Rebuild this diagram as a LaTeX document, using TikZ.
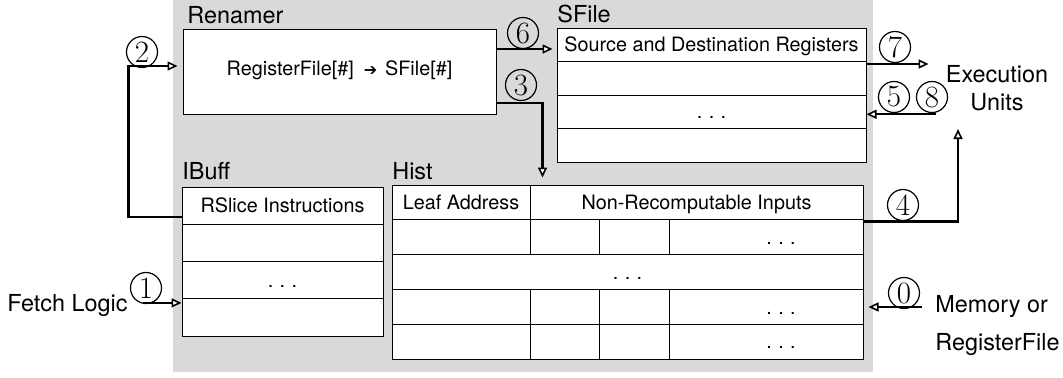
\documentclass[tikz,border=0pt]{standalone}
\usepackage{fontspec}
\setsansfont{TeX Gyre Heros}
\newfontfamily\dejavu{DejaVu Sans}
\usetikzlibrary{arrows.meta}
\definecolor{panelgray}{RGB}{217,217,217}
\newcommand\celldots{.\kern3.2pt.\kern3.2pt.}

\tikzset{
  cellbox/.style={draw, fill=white, line width=0.5pt, inner sep=0pt,
    text height=7.2pt, text depth=0pt, font=\sffamily\fontsize{9.9}{12}\selectfont},
  celltext/.style={inner sep=0pt, text height=7.2pt, text depth=0pt,
    font=\sffamily\fontsize{9.9}{12}\selectfont},
  boxlabel/.style={anchor=base west, inner sep=0pt, font=\sffamily\fontsize{11.7}{14}\selectfont},
  circnum/.style={circle, draw, line width=0.6pt, minimum size=15.5pt, inner sep=0pt,
    font=\rmfamily\fontsize{15.5}{15.5}\selectfont},
  flowarrow/.style={line width=1.1pt,
    -{Triangle[fill=white, length=5pt, width=4.5pt, line width=0.8pt]}},
}

\begin{document}
\begin{tikzpicture}[x=0.5pt, y=-0.5pt]
    \useasboundingbox (0,0) rectangle (1063,377);

    % Grey panel
    \fill[panelgray] (173,0) rectangle (873,372);

    % Renamer
    \node[cellbox, minimum width=156.5pt, minimum height=42.5pt, text depth=3.7pt] (renamer) at (339.5,71.5)
        {RegisterFile[\#]\hspace{5pt}{\dejavu\fontsize{8}{8}\selectfont ➔}\hspace{4pt}SFile[\#]};
    \node[boxlabel] (renamerlabel) at (187,23) {Renamer};

    % SFile rows
    \foreach \i/\txt in {1/Source and Destination Registers, 2/, 3/\celldots, 4/}
        \node[cellbox, minimum width=154.5pt, minimum height=16.75pt] (sf\i) at (711.5,{28+33.5*\i-16.75}) {\txt};
    \node[boxlabel] (sfilelabel) at (557,22) {SFile};

    % IBuff rows
    \foreach \i/\txt in {1/RSlice Instructions, 2/, 3/\celldots, 4/}
        \node[cellbox, minimum width=100.5pt, minimum height=18.625pt] (ib\i) at (282.5,{187+37.25*\i-18.625}) {\txt};
    \node[boxlabel] (ibufflabel) at (182,179) {IBuff};

    % Hist table
    \node[cellbox, minimum width=235.5pt, minimum height=87pt] (hist) at (627.5,272) {};
    \foreach \k in {1,...,4}
        \draw[line width=0.5pt] (392,{185+34.8*\k}) -- (863,{185+34.8*\k});
    \draw[line width=0.5pt] (530,185) -- (530,254.6) (530,289.4) -- (530,359);
    \foreach \c in {599,669}
        \draw[line width=0.5pt] (\c,219.8) -- (\c,254.6) (\c,289.4) -- (\c,359);
    \node[celltext] (leafaddr) at (461,202.4) {Leaf Address};
    \node[celltext] (nrinputs) at (696.5,202.4) {Non-Recomputable Inputs};
    \node[celltext] (histdotsa) at (781,237.2) {\celldots};
    \node[celltext] (histdotsb) at (627.5,272) {\celldots};
    \node[celltext] (histdotsc) at (781,306.8) {\celldots};
    \node[celltext] (histdotsd) at (781,341.6) {\celldots};
    \node[boxlabel] (histlabel) at (392,179) {Hist};

    % Outside units
    \node[boxlabel] (fetch) at (7,311) {Fetch Logic};
    \node[align=center, anchor=north, inner sep=0pt, font=\sffamily\fontsize{11.7}{14}\selectfont]
        (exec) at (997,65.2) {Execution\\Units};
    \node[align=left, anchor=north west, inner sep=0pt, font=\sffamily\fontsize{11.7}{19}\selectfont]
        (memory) at (935,295.2) {Memory or\\RegisterFile};

    % Connector ends
    \coordinate (r6) at ([yshift=11.25pt]renamer.east);
    \coordinate (r3) at ([yshift=-15.75pt]renamer.east);
    \coordinate (h3) at ([xshift=75.5pt]hist.north west);
    \coordinate (s7) at ([yshift=-1.5pt]sf2.north east);
    \coordinate (s58) at ([yshift=-1.25pt]sf3.east);
    \coordinate (h4) at ([yshift=-18.5pt]hist.north east);
    \coordinate (e4) at (958,129);
    \coordinate (h0) at ([yshift=-17.5pt]hist.east);
    \coordinate (i1) at ([yshift=7.25pt]ib4.west);
    \coordinate (i2) at ([yshift=-5.75pt]ib1.west);

    % Data flow
    \draw[flowarrow, shorten >=2.5pt] (i2) -- ++(-26.5pt,0) |- ([yshift=2.75pt]renamer.west);
    \draw[flowarrow, shorten >=2pt] (r6) -- (r6 -| sf1.west);
    \draw[flowarrow, shorten >=3.5pt] (r3) -| (h3);
    \draw[flowarrow, shorten >=8.5pt] (s7) -- (s7 -| exec.west);
    \draw[flowarrow, shorten <=5pt] (s58 -| exec.west) -- (s58);
    \draw[flowarrow] (h4) -| (e4);
    \draw[flowarrow, shorten <=6.5pt, shorten >=2.5pt] (h0 -| memory.west) -- (h0);
    \draw[flowarrow] ([xshift=-19.5pt]i1) -- (i1);

    % Step numbers
    \node[circnum] (n0) at (904,293) {0};
    \node[circnum] (n1) at (146,288) {1};
    \node[circnum] (n2) at (142,52) {2};
    \node[circnum] (n3) at (521,85) {3};
    \node[circnum] (n4) at (903,205) {4};
    \node[circnum] (n5) at (894,97) {5};
    \node[circnum] (n6) at (523,33) {6};
    \node[circnum] (n7) at (895,47) {7};
    \node[circnum] (n8) at (932,97) {8};
\end{tikzpicture}
\end{document}
